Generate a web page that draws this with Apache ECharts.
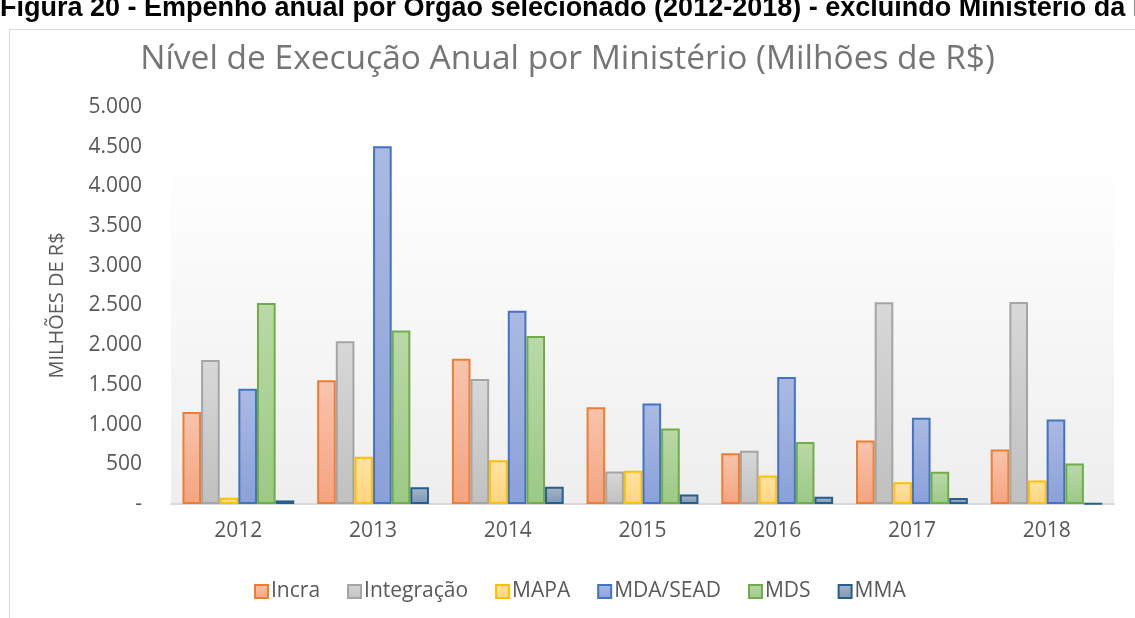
<!DOCTYPE html>
<html>
<head>
<meta charset="utf-8">
<script src="https://cdn.jsdelivr.net/npm/echarts@6/dist/echarts.min.js"></script>
<style>
  html, body { margin: 0; padding: 0; background: #fff; }
  #main { width: 1135px; height: 618px; }
</style>
</head>
<body>
<div id="main"></div>
<script>
var years = ['2012', '2013', '2014', '2015', '2016', '2017', '2018'];

var incra      = [1160, 1560, 1830, 1220, 640, 800, 685];
var integracao = [1815, 2050, 1575, 410, 670, 2540, 2545];
var mapa       = [80, 595, 550, 420, 360, 275, 295];
var mdaSead    = [1450, 4505, 2435, 1265, 1600, 1085, 1065];
var mds        = [2530, 2185, 2115, 950, 780, 405, 510];
var mma        = [45, 210, 218, 120, 90, 75, 5];

var seriesNames = ['Incra', 'Integração', 'MAPA', 'MDA/SEAD', 'MDS', 'MMA'];
var seriesData = [incra, integracao, mapa, mdaSead, mds, mma];

// border colour, gradient top, gradient bottom
var palette = [
  ['#ED7D31', '#F8C4AD', '#F4A481'],
  ['#A5A5A5', '#D8D8D8', '#C0C0C0'],
  ['#FFC000', '#FFE3A3', '#FFD47F'],
  ['#4472C4', '#ABBAE2', '#8AA1D8'],
  ['#70AD47', '#BAD9A9', '#9CC985'],
  ['#255E91', '#A7B6C9', '#8096B3']
];

var labelFont = 'Open Sans';
var grey = '#595959';

function fmt(v) {
  if (v === 0) return '-';
  return String(v).replace(/\B(?=(\d{3})+(?!\d))/g, '.');
}

var series = seriesNames.map(function (name, i) {
  return {
    name: name,
    type: 'bar',
    data: seriesData[i],
    barGap: '0%',
    barCategoryGap: '17%',
    itemStyle: {
      borderColor: palette[i][0],
      borderWidth: 2,
      color: new echarts.graphic.LinearGradient(0, 0, 0, 1, [
        { offset: 0, color: palette[i][1] },
        { offset: 1, color: palette[i][2] }
      ])
    }
  };
});

var chart = echarts.init(document.getElementById('main'));
chart.setOption({
  animation: false,
  title: {
    text: 'Nível de Execução Anual por Ministério (Milhões de R$)',
    left: 'center',
    top: 37,
    textStyle: { fontFamily: labelFont, fontSize: 33.5, fontWeight: 'normal', color: '#757575' }
  },
  graphic: [
    {
      type: 'text',
      x: 0,
      y: 22,
      style: {
        text: 'Figura 20 - Empenho anual por Órgão selecionado (2012-2018) - excluindo Ministério da Fazenda',
        font: 'bold 27px "Liberation Sans", Arial, sans-serif',
        fill: '#000',
        textVerticalAlign: 'bottom'
      }
    },
    {
      type: 'polyline',
      shape: { points: [[9.5, 640], [9.5, 29.5], [1200, 29.5]] },
      style: { stroke: '#d9d9d9', lineWidth: 1, fill: null }
    }
  ],
  legend: {
    data: seriesNames,
    left: 249,
    top: 576,
    icon: 'rect',
    itemWidth: 13,
    itemHeight: 13,
    itemGap: 27,
    textStyle: { fontFamily: labelFont, fontSize: 21, color: grey, padding: [0, 0, 0, -2] }
  },
  grid: {
    left: 171,
    right: 21,
    top: 107,
    bottom: 114,
    show: true,
    borderWidth: 0,
    backgroundColor: new echarts.graphic.LinearGradient(0, 0, 0, 1, [
      { offset: 0, color: '#ffffff' },
      { offset: 0.12, color: '#ffffff' },
      { offset: 1, color: '#eeeeee' }
    ])
  },
  xAxis: {
    type: 'category',
    data: years,
    axisLine: { lineStyle: { color: '#d9d9d9', width: 2 } },
    axisTick: { show: false },
    axisLabel: { fontFamily: labelFont, fontSize: 21, color: grey, margin: 17 }
  },
  yAxis: {
    type: 'value',
    min: 0,
    max: 5000,
    interval: 500,
    name: 'MILHÕES DE R$',
    nameLocation: 'middle',
    nameGap: 104,
    nameTextStyle: { fontFamily: labelFont, fontSize: 20, color: grey },
    axisLine: { show: false },
    axisTick: { show: false },
    splitLine: { show: false },
    axisLabel: { fontFamily: labelFont, fontSize: 21, color: grey, margin: 29, formatter: fmt }
  },
  series: series
});
</script>
</body>
</html>
